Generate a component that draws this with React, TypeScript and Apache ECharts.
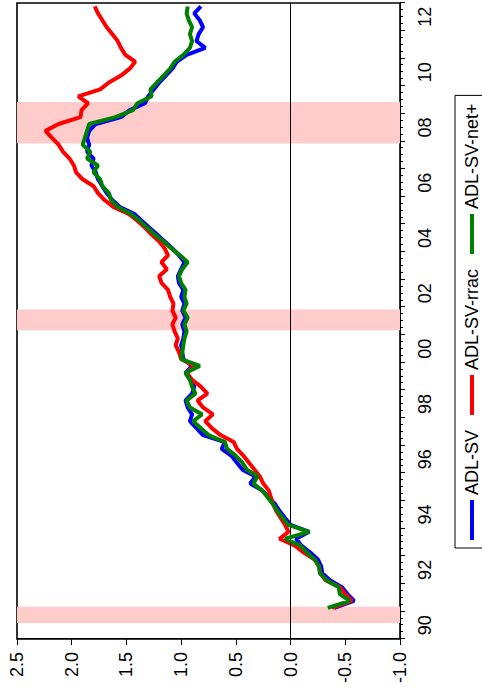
import React, { useEffect, useRef } from "react";
import * as echarts from "echarts";

// Quarterly observations, first quarter 1991Q1 (plotted at mid-quarter)
const firstQuarter = 1991.125;

const adlSV = [
  -0.40, -0.58, -0.52, -0.47,
  -0.36, -0.29, -0.28, -0.25,
  -0.18, -0.10, -0.05, -0.17,
  0.00, 0.05, 0.10, 0.14,
  0.20, 0.26, 0.37, 0.32,
  0.44, 0.49, 0.54, 0.63,
  0.60, 0.80, 0.86, 0.92,
  0.90, 0.94, 0.96, 0.90,
  0.88, 0.92, 0.96, 0.90,
  0.98, 0.99, 1.00, 0.98,
  0.97, 0.99, 0.96, 0.99,
  0.97, 1.00, 0.98, 1.02,
  1.03, 1.00, 0.97, 1.02,
  1.08, 1.15, 1.22, 1.29,
  1.36, 1.43, 1.56, 1.63,
  1.68, 1.72, 1.76, 1.78,
  1.82, 1.80, 1.86, 1.84,
  1.86, 1.84, 1.78, 1.55,
  1.47, 1.33, 1.30, 1.25,
  1.20, 1.14, 1.08, 1.04,
  0.95, 0.78, 0.86, 0.84,
  0.80, 0.83, 0.88, 0.82,
];

const adlSVrrac = [
  -0.38, -0.56, -0.50, -0.45,
  -0.32, -0.27, -0.26, -0.22,
  -0.12, -0.04, 0.10, 0.02,
  0.05, 0.09, 0.13, 0.16,
  0.18, 0.20, 0.25, 0.28,
  0.33, 0.38, 0.43, 0.49,
  0.52, 0.64, 0.72, 0.78,
  0.71, 0.80, 0.85, 0.76,
  0.82, 0.90, 0.95, 0.88,
  1.00, 1.02, 1.05, 1.03,
  1.06, 1.08, 1.05, 1.08,
  1.07, 1.10, 1.12, 1.18,
  1.20, 1.13, 1.18, 1.12,
  1.15, 1.20, 1.27, 1.33,
  1.40, 1.48, 1.62, 1.70,
  1.76, 1.80, 1.90, 1.96,
  1.98, 2.02, 2.08, 2.12,
  2.18, 2.24, 2.12, 1.92,
  1.91, 1.85, 1.94, 1.74,
  1.66, 1.55, 1.47, 1.42,
  1.51, 1.55, 1.58, 1.63,
  1.68, 1.72, 1.76, 1.79,
];

const adlSVnet = [
  -0.34, -0.54, -0.45, -0.44,
  -0.33, -0.27, -0.26, -0.22,
  -0.15, -0.09, 0.05, -0.17,
  0.02, 0.07, 0.12, 0.16,
  0.21, 0.26, 0.34, 0.30,
  0.40, 0.44, 0.50, 0.58,
  0.60, 0.75, 0.82, 0.89,
  0.81, 0.92, 0.95, 0.87,
  0.90, 0.92, 0.96, 0.83,
  1.00, 0.99, 0.98, 0.97,
  0.95, 0.97, 0.94, 0.98,
  0.95, 0.97, 0.96, 1.00,
  1.02, 0.99, 0.94, 1.01,
  1.09, 1.16, 1.24, 1.31,
  1.38, 1.46, 1.58, 1.64,
  1.66, 1.72, 1.74, 1.80,
  1.76, 1.86, 1.83, 1.90,
  1.88, 1.86, 1.84, 1.60,
  1.44, 1.40, 1.27, 1.28,
  1.22, 1.16, 1.10, 1.06,
  0.98, 0.92, 0.90, 0.92,
  0.90, 0.93, 0.95, 0.94,
];

// NBER recessions (start, end) in decimal years
const recessions: [number, number][] = [
  [1990.583, 1991.167],
  [2001.167, 2001.917],
  [2007.917, 2009.417],
];

const seriesNames = ["ADL-SV", "ADL-SV-rrac", "ADL-SV-net+"];
const seriesColors = ["#0000FF", "#FF0000", "#008000"];
const valueTicks = { min: -1, max: 2.5, step: 0.5 };
const yearRange = { min: 1990, max: 2013 };

const FONT = "'Liberation Sans', Arial, Helvetica, sans-serif";

export default function App() {
  const ref = useRef<HTMLDivElement>(null);

  useEffect(() => {
    document.documentElement.style.overflow = "hidden";
    document.body.style.overflow = "hidden";
    if (!ref.current) return;
    const chart = echarts.init(ref.current, undefined, { renderer: "svg" });
    const toPairs = (vals: number[]) =>
      vals.map((v, i) => [firstQuarter + i * 0.25, v]);
    const all = [adlSV, adlSVrrac, adlSVnet];

    chart.setOption({
      animation: false,
      backgroundColor: "#ffffff",
      textStyle: { fontFamily: FONT },
      grid: {
        left: 49,
        right: 1,
        top: 17,
        bottom: 82,
        show: true,
        borderColor: "#000",
        borderWidth: 1.6,
        backgroundColor: "transparent",
      },
      legend: {
        data: seriesNames,
        left: 140,
        top: 455,
        orient: "horizontal",
        icon: "rect",
        itemWidth: 40,
        itemHeight: 4,
        itemGap: 15,
        padding: [8, 8, 14, 8],
        borderColor: "#000",
        borderWidth: 1,
        borderRadius: 0,
        textStyle: { fontSize: 18, color: "#000", fontFamily: FONT },
      },
      xAxis: [
        {
          type: "value",
          min: yearRange.min,
          max: yearRange.max,
          interval: 1,
          position: "bottom",
          axisLine: { show: true, onZero: false, lineStyle: { color: "#000", width: 1 } },
          axisTick: { show: true, inside: false, length: 5, lineStyle: { color: "#000" } },
          minorTick: { show: true, splitNumber: 4, length: 3, lineStyle: { color: "#000" } },
          axisLabel: { show: false },
          splitLine: { show: false },
        },
        {
          type: "value",
          min: yearRange.min,
          max: yearRange.max,
          interval: 0.5,
          position: "bottom",
          axisLine: { show: false, onZero: false },
          axisTick: { show: false },
          splitLine: { show: false },
          axisLabel: {
            show: true,
            margin: 16,
            fontSize: 18,
            color: "#000",
            fontFamily: FONT,
            showMinLabel: true,
            showMaxLabel: true,
            formatter: (v: number) => {
              const r = Math.round(v * 2) / 2;
              if (Math.abs(r - Math.floor(r) - 0.5) > 1e-6) return "";
              const yr = Math.floor(r);
              if (yr % 2 !== 0) return "";
              return String(yr % 100).padStart(2, "0");
            },
          },
        },
      ],
      yAxis: {
        type: "value",
        min: valueTicks.min,
        max: valueTicks.max,
        interval: valueTicks.step,
        axisLine: { show: true, onZero: false, lineStyle: { color: "#000", width: 1 } },
        axisTick: { show: true, inside: false, length: 6, lineStyle: { color: "#000" } },
        axisLabel: {
          margin: 13,
          fontSize: 18,
          color: "#000",
          fontFamily: FONT,
          formatter: (v: number) => v.toFixed(1),
        },
        splitLine: { show: false },
      },
      series: [
        {
          name: "recessions",
          type: "line",
          data: [],
          z: 1,
          silent: true,
          markArea: {
            silent: true,
            itemStyle: { color: "#FFCCCC", opacity: 1 },
            data: recessions.map(([a, b]) => [{ xAxis: a }, { xAxis: b }]),
          },
        },
        {
          name: "zero",
          type: "line",
          data: [],
          z: 2,
          silent: true,
          markLine: {
            silent: true,
            symbol: "none",
            label: { show: false },
            lineStyle: { color: "#000", width: 1, type: "solid" },
            data: [{ yAxis: 0 }],
          },
        },
        ...all.map((vals, i) => ({
          name: seriesNames[i],
          type: "line",
          data: toPairs(vals),
          showSymbol: false,
          symbol: "none",
          z: 3 + i,
          lineStyle: { color: seriesColors[i], width: 4 },
          itemStyle: { color: seriesColors[i] },
        })),
      ],
    });

    return () => chart.dispose();
  }, []);

  return (
    <div
      style={{
        position: "absolute",
        left: 0,
        top: 0,
        width: 688,
        height: 482,
        transformOrigin: "0 0",
        transform: "translateY(688px) rotate(-90deg)",
        background: "#fff",
      }}
    >
      <div ref={ref} style={{ width: 688, height: 482 }} />
    </div>
  );
}
